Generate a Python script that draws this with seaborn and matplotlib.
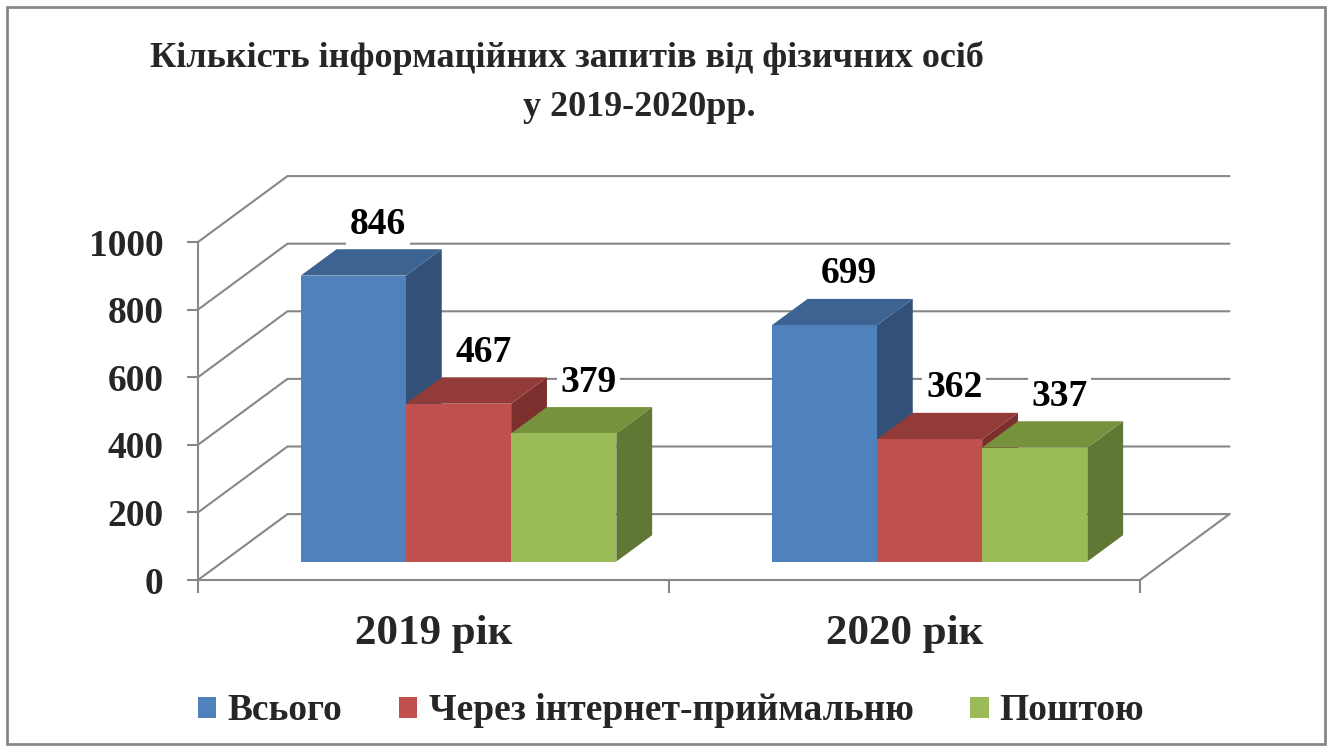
import pandas as pd
import matplotlib.pyplot as plt
import seaborn as sns
from matplotlib.colors import to_rgb
from matplotlib.patches import Polygon, Patch, Rectangle
from matplotlib.transforms import Affine2D

# data
years = ["2019 рік", "2020 рік"]
series = ["Всього", "Через інтернет-приймальню", "Поштою"]
values_2019 = [846, 467, 379]
values_2020 = [699, 362, 337]
y_ticks = [0, 200, 400, 600, 800, 1000]
title_1 = "Кількість інформаційних запитів від фізичних осіб"
title_2 = "у 2019-2020рр."

# office 2007 palette: front, top, side
front_colors = ["#4F81BD", "#C0504D", "#9BBB59"]
top_colors = ["#3C6392", "#933B38", "#76923C"]
side_colors = ["#325078", "#7C302E", "#617834"]
grid_color = "#878787"

df = pd.DataFrame({
    "year": [y for y in years for _ in series],
    "series": series * 2,
    "value": values_2019 + values_2020,
})

sns.set_theme(style="white")
plt.rcParams["font.family"] = ["Liberation Serif", "DejaVu Serif"]
plt.rcParams["font.weight"] = "bold"

fig = plt.figure(figsize=(13.3, 7.47), dpi=100)
ax = fig.add_axes([198 / 1330, 1 - 580 / 747, 942 / 1330, 338 / 747])
ax.patch.set_alpha(0)

sns.barplot(data=df, x="year", y="value", hue="series", palette=front_colors,
            width=0.67, saturation=1, legend=False, ax=ax)
ax.set_xlim(-0.5, 1.5)
ax.set_ylim(0, 1000)

# oblique "3d" depth in data units (floor depth), bar plane offset and bar depth
DX, DY = 0.19, 195
front_off = (0.28 * DX, 0.28 * DY)
bdx, bdy = 0.40 * DX, 0.40 * DY
bar_tr = Affine2D().translate(*front_off) + ax.transData

# back wall gridlines + left wall diagonals + floor
for v in y_ticks:
    ax.plot([-0.5, -0.5 + DX, 1.5 + DX], [v, v + DY, v + DY],
            color=grid_color, lw=1.5, clip_on=False, zorder=0)
ax.plot([1.5, 1.5 + DX], [0, DY], color=grid_color, lw=1.5, clip_on=False, zorder=0)


def series_index(fc):
    return min(range(3), key=lambda j: sum(abs(a - b) for a, b in zip(fc[:3], to_rgb(front_colors[j]))))


# side, top and front faces, drawn left to right
bars = sorted(ax.patches, key=lambda p: p.get_x())
for i, p in enumerate(bars):
    k = series_index(p.get_facecolor())
    x0, w, h = p.get_x(), p.get_width(), p.get_height()
    z = 2 + i * 3
    side = Polygon([(x0 + w, 0), (x0 + w + bdx, bdy), (x0 + w + bdx, h + bdy), (x0 + w, h)],
                   closed=True, facecolor=side_colors[k], edgecolor="none",
                   transform=bar_tr, zorder=z, clip_on=False)
    top = Polygon([(x0, h), (x0 + bdx, h + bdy), (x0 + w + bdx, h + bdy), (x0 + w, h)],
                  closed=True, facecolor=top_colors[k], edgecolor="none",
                  transform=bar_tr, zorder=z + 1, clip_on=False)
    ax.add_patch(side)
    ax.add_patch(top)
    p.set_transform(bar_tr)
    p.set_zorder(z + 2)
    p.set_clip_on(False)
    p.set_edgecolor("none")
    ax.annotate(f"{int(round(h))}", xy=(x0 + w / 2 + bdx / 2, h + bdy), xycoords=bar_tr,
                xytext=(5, 18), textcoords="offset points", ha="center", va="center",
                fontsize=27, fontweight="bold", color="black", zorder=50,
                bbox=dict(boxstyle="square,pad=0.1", fc="white", ec="none"))

# axes styling
for s in ["top", "right"]:
    ax.spines[s].set_visible(False)
for s in ["left", "bottom"]:
    ax.spines[s].set_color(grid_color)
    ax.spines[s].set_linewidth(1.5)
ax.set_yticks(y_ticks)
ax.set_yticklabels([str(v) for v in y_ticks], fontsize=27, fontweight="bold")
ax.tick_params(axis="y", direction="out", length=8, width=1.5, color=grid_color, pad=17, left=True)
ax.set_xticks([0, 1])
ax.set_xticklabels(years, fontsize=31, fontweight="bold")
ax.set_xticks([-0.5, 0.5, 1.5], minor=True)
ax.tick_params(axis="x", which="major", length=0, pad=25)
ax.tick_params(axis="x", which="minor", direction="out", length=9, width=1.5,
               color=grid_color, bottom=True)
ax.set_xlabel("")
ax.set_ylabel("")

fig.text(567 / 1330, 1 - 58 / 747, title_1, ha="center", va="center", fontsize=26,
         fontweight="bold")
fig.text(523 / 1330, 1 - 108 / 747, title_2, ha="left", va="center", fontsize=26,
         fontweight="bold")

handles = [Patch(facecolor=c, edgecolor="none") for c in front_colors]
fig.legend(handles, series, loc="center", bbox_to_anchor=(671 / 1330, 1 - 711 / 747),
           ncol=3, frameon=False, prop=dict(size=27, weight="bold"),
           handlelength=0.5, handleheight=0.5, handletextpad=0.3, columnspacing=1.5)

fig.patches.append(Rectangle((7 / 1330, 3 / 747), 1318 / 1330, 737 / 747,
                             transform=fig.transFigure, fill=False,
                             edgecolor=grid_color, lw=2, zorder=100))

fig.savefig("out.png", dpi=100)
